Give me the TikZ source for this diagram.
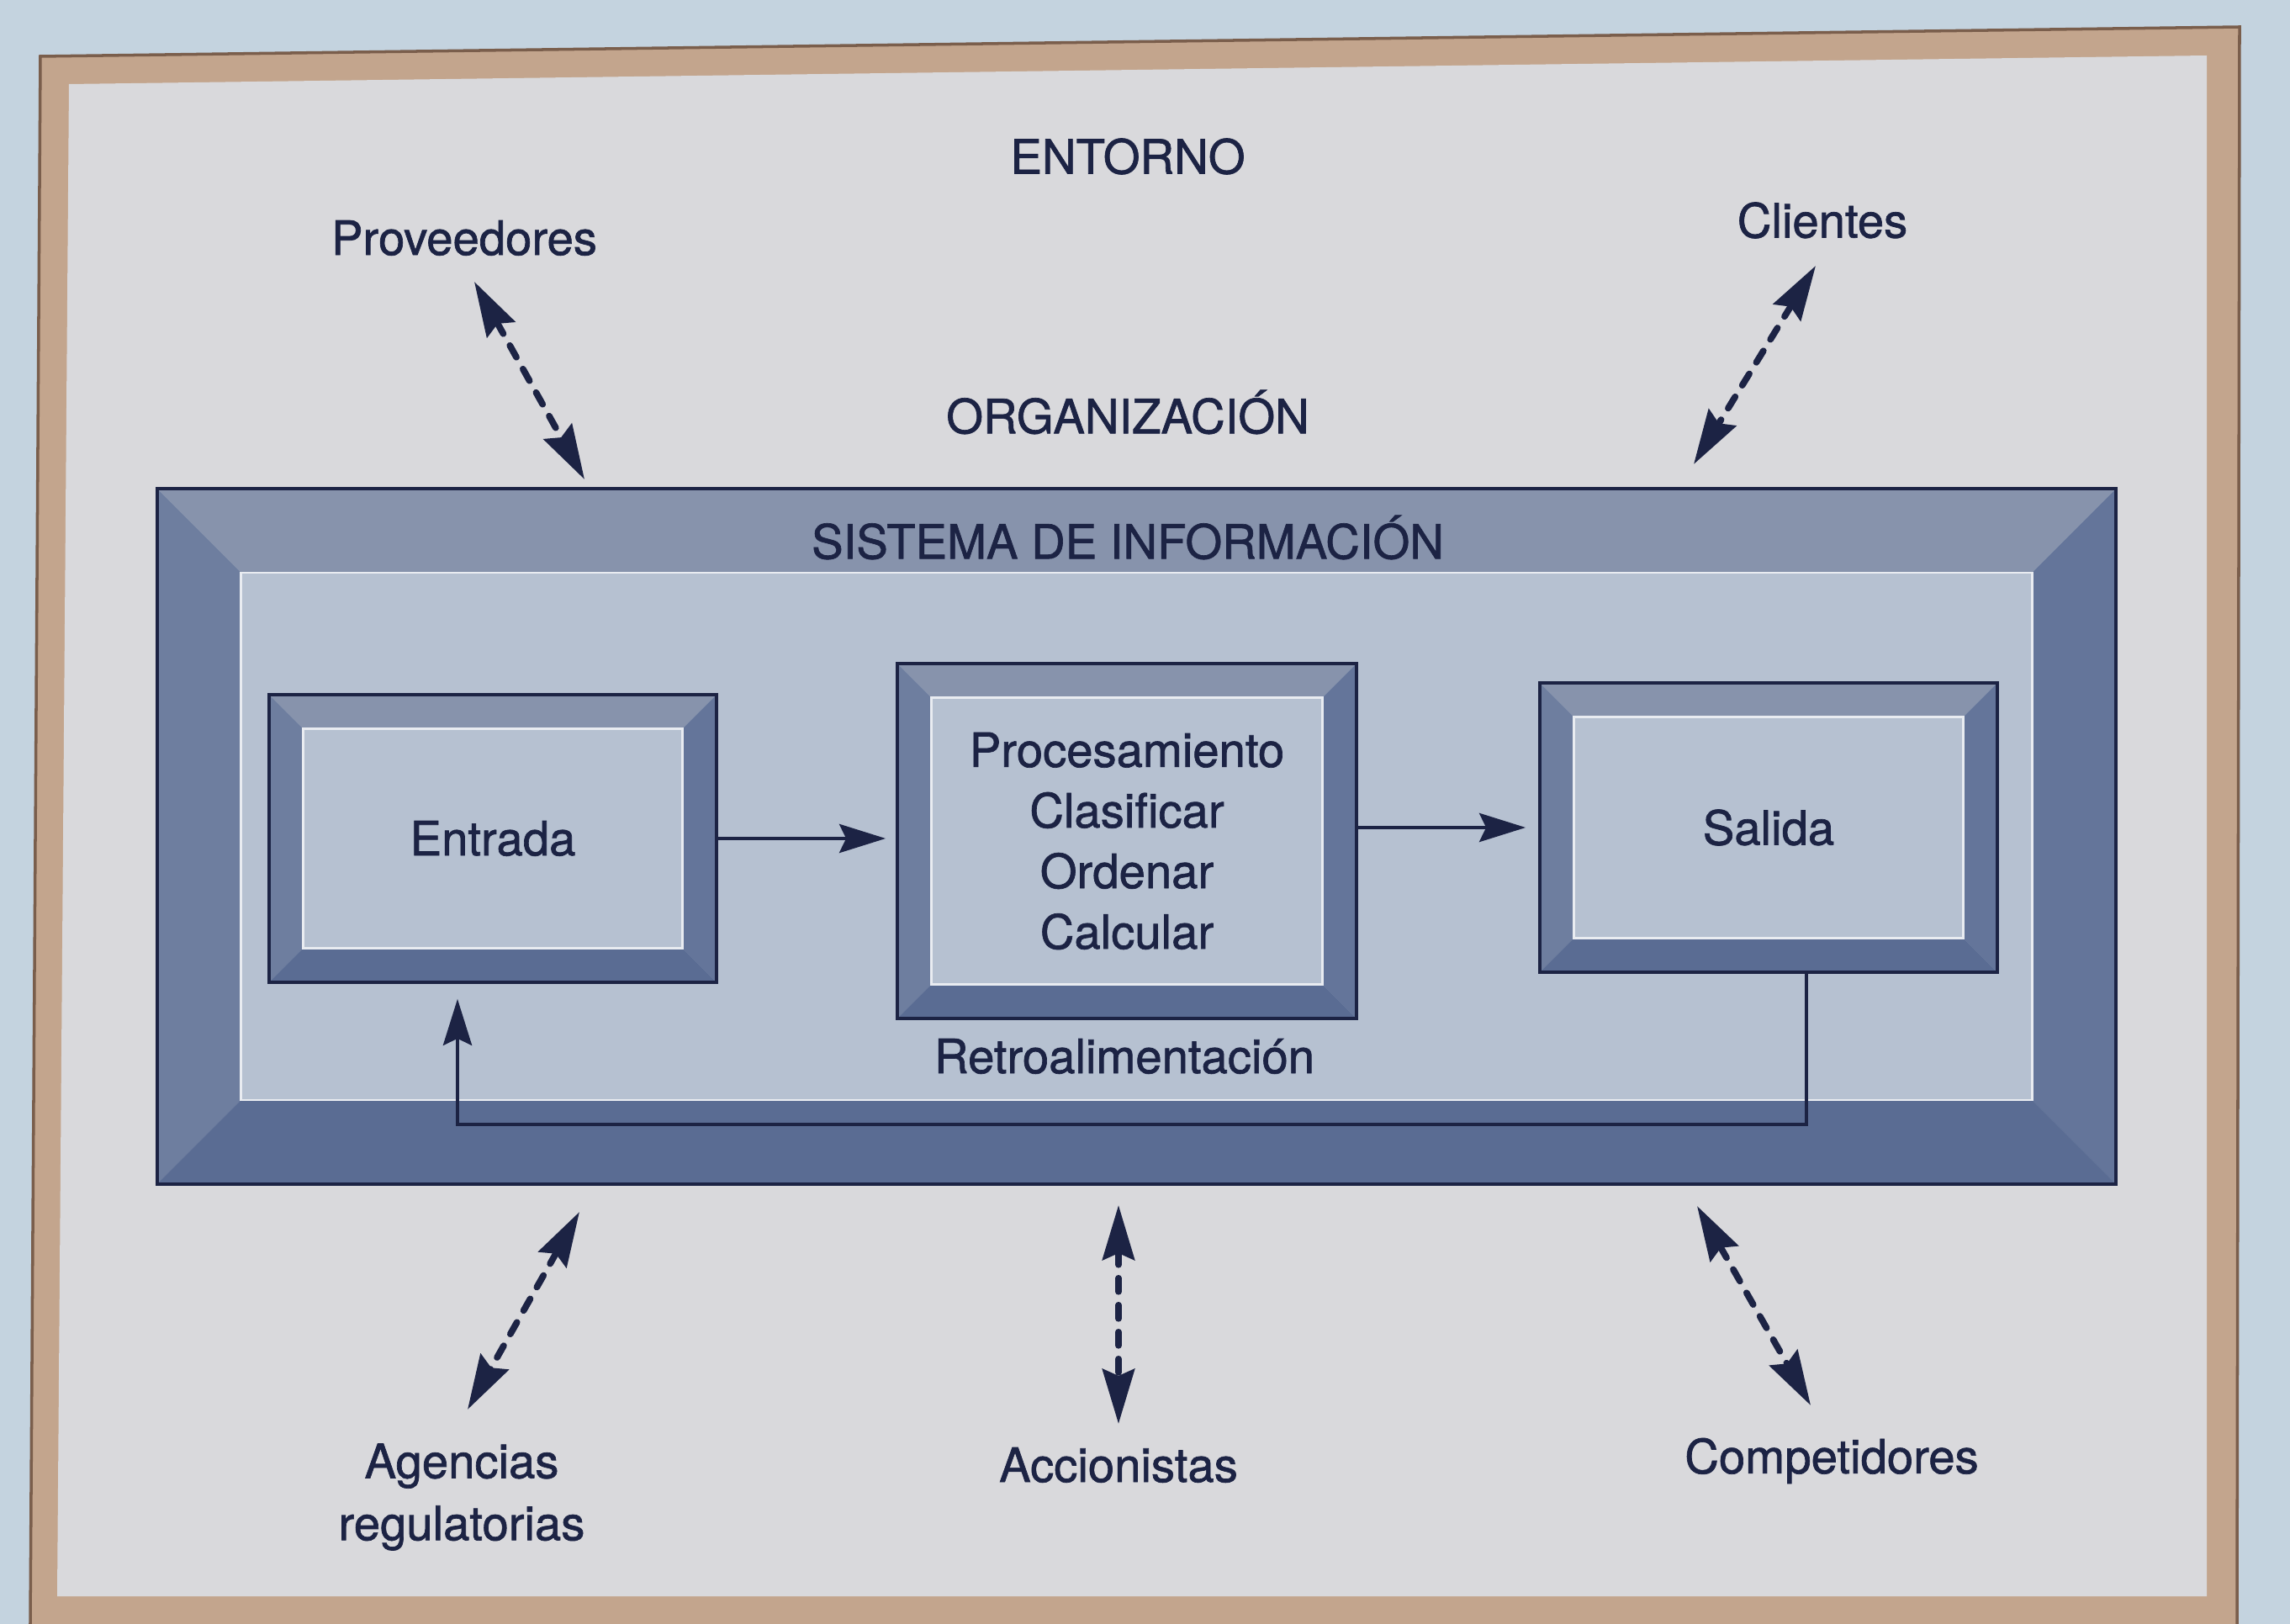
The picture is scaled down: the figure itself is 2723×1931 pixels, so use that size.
\documentclass[tikz,border=0pt]{standalone}
\usepackage{fontspec}
\setmainfont{TeX Gyre Heros}[BoldFont=TeX Gyre Heros, BoldFeatures={FakeBold=1.2}]
\usetikzlibrary{arrows.meta,calc}

\definecolor{wall}{HTML}{C4D3DF}
\definecolor{wood}{HTML}{C3A58D}
\definecolor{woodedge}{HTML}{7A5E4C}
\definecolor{paper}{HTML}{D9D9DC}
\definecolor{ink}{HTML}{1C2344}
\definecolor{facetop}{HTML}{8793AC}
\definecolor{faceleft}{HTML}{6E7E9F}
\definecolor{faceright}{HTML}{64759A}
\definecolor{facebottom}{HTML}{5A6C93}
\definecolor{panel}{HTML}{B6C1D1}

% bevelled frame round a named node: #1 node, #2 depth
\newcommand{\bevel}[2]{%
  \fill[facetop] (#1.north west) -- (#1.north east) -- ($(#1.north east)+(-#2,#2)$) -- ($(#1.north west)+(#2,#2)$) -- cycle;
  \fill[faceleft] (#1.north west) -- ($(#1.north west)+(#2,#2)$) -- ($(#1.south west)+(#2,-#2)$) -- (#1.south west) -- cycle;
  \fill[faceright] (#1.north east) -- ($(#1.north east)+(-#2,#2)$) -- ($(#1.south east)+(-#2,-#2)$) -- (#1.south east) -- cycle;
  \fill[facebottom] (#1.south west) -- ($(#1.south west)+(#2,-#2)$) -- ($(#1.south east)+(-#2,-#2)$) -- (#1.south east) -- cycle;
  \draw[white!70!panel, line width=0.8pt] ($(#1.north west)+(#2,#2)$) rectangle ($(#1.south east)+(-#2,-#2)$);
  \draw[ink, line width=1.1pt] (#1.north west) rectangle (#1.south east);
}

\tikzset{
  box/.style={fill=panel, inner sep=0pt, align=center, text=ink,
    font=\fontsize{16}{20.5}\selectfont\bfseries},
  lbl/.style={text=ink, align=center, font=\fontsize{16}{21}\selectfont\bfseries},
  flow/.style={draw=ink, line width=1.3pt,
    -{Stealth[length=5.5mm,width=3.4mm,inset=0.8mm]}},
  link/.style={draw=ink, line width=2.2pt, line cap=round,
    dash pattern=on 1.6mm off 1.6mm,
    {Stealth[length=6.5mm,width=3.8mm,inset=0.8mm]}-{Stealth[length=6.5mm,width=3.8mm,inset=0.8mm]}},
}

\begin{document}
\begin{tikzpicture}[x=0.01cm,y=-0.01cm]
\useasboundingbox (0,0) rectangle (2723,1931);

% wall, wooden frame and board
\fill[wall] (0,0) rectangle (2723,1931);
\fill[wood] (48,67) -- (2663,32) -- (2660,1931) -- (36,1931) -- cycle;
\draw[woodedge, line width=1pt] (36,1931) -- (48,67) -- (2663,32) -- (2660,1931);
\fill[paper] (82,100) -- (2624,66) -- (2624,1898) -- (68,1898) -- cycle;

% environment labels
\node[lbl] (entorno) at (1341,186) {ENTORNO};
\node[lbl] (prov) at (552,283) {Proveedores};
\node[lbl] (cli) at (2167,262) {Clientes};
\node[lbl] (org) at (1341,490) {ORGANIZACIÓN};
\node[lbl] (agen) at (549,1780) {Agencias\\regulatorias};
\node[lbl] (acc) at (1330,1742) {Accionistas};
\node[lbl] (comp) at (2178,1737) {Competidores};

% information system
\node[box, minimum width=23.27cm, minimum height=8.25cm] (si) at (1351.5,994.5) {};
\bevel{si}{100}
\node[lbl] (sitxt) at (1341,639) {SISTEMA DE INFORMACIÓN};

\node[box, minimum width=5.30cm, minimum height=3.40cm] (entrada) at (586,997) {Entrada};
\bevel{entrada}{40}
\node[box, minimum width=5.44cm, minimum height=4.20cm] (proc) at (1340,1000) {};
\bevel{proc}{40}
\node[box, fill=none] (proctxt) at (proc.center) {Procesamiento\\Clasificar\\Ordenar\\Calcular};
\node[box, minimum width=5.42cm, minimum height=3.42cm] (salida) at (2103,984) {};
\bevel{salida}{40}
\node[box, fill=none] (saltxt) at (salida.center) {Salida};
\node[lbl] (retro) at (1337,1256) {Retroalimentación};

% flow
\draw[flow, shorten >=1.4mm] (entrada.east) -- (proc.west |- entrada.east);
\draw[flow, shorten >=1.7mm] (proc.east |- salida.west) -- (salida.west);
\coordinate (fbR) at (2148,1337);
\coordinate (fbL) at (544,1337);
\draw[flow, shorten >=2mm] (salida.south -| fbR) -- (fbR) -- (fbL) -- (entrada.south -| fbL);

% links with the environment
\coordinate (provA) at (564,335);  \coordinate (provB) at (695,570);
\coordinate (cliA) at (2159,316);  \coordinate (cliB) at (2014,552);
\coordinate (agenA) at (689,1441); \coordinate (agenB) at (556,1676);
\coordinate (accA) at (1330,1433); \coordinate (accB) at (1330,1693);
\coordinate (compA) at (2018,1434); \coordinate (compB) at (2153,1671);
\draw[link] (provA) -- (provB);
\draw[link] (cliA) -- (cliB);
\draw[link] (agenA) -- (agenB);
\draw[link] (accA) -- (accB);
\draw[link] (compA) -- (compB);
\end{tikzpicture}
\end{document}
